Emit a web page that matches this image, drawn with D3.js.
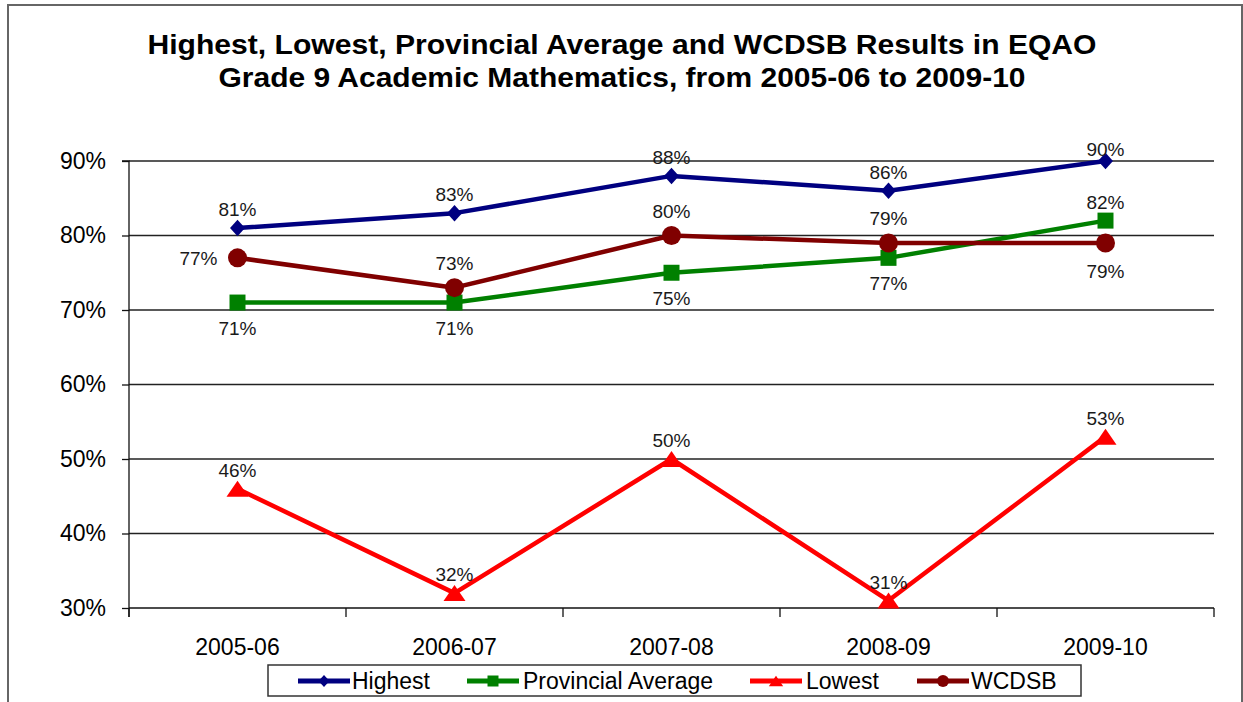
<!DOCTYPE html>
<html>
<head>
<meta charset="utf-8">
<script src="https://cdn.jsdelivr.net/npm/d3@7"></script>
<style>
  html, body { margin: 0; padding: 0; background: #fff; }
  svg { display: block; font-family: "Liberation Sans", Arial, sans-serif; }
</style>
</head>
<body>
<svg id="chart" width="1243" height="702"></svg>
<script>
// ---- data ----
const categories = ["2005-06", "2006-07", "2007-08", "2008-09", "2009-10"];
const highest = [81, 83, 88, 86, 90];
const provincial = [71, 71, 75, 77, 82];
const lowest = [46, 32, 50, 31, 53];
const wcdsb = [77, 73, 80, 79, 79];
const seriesNames = ["Highest", "Provincial Average", "Lowest", "WCDSB"];
const yTicks = [30, 40, 50, 60, 70, 80, 90];
const titleLines = [
  "Highest, Lowest, Provincial Average and WCDSB Results in EQAO",
  "Grade 9 Academic Mathematics, from 2005-06 to 2009-10"
];

// ---- drawing ----
const svg = d3.select("#chart");
const plot = { left: 129, right: 1214, top: 161, bottom: 608 };

// outer frame
svg.append("rect").attr("x", 8).attr("y", 5).attr("width", 1234).attr("height", 730)
  .attr("fill", "#fff").attr("stroke", "#666").attr("stroke-width", 2);

// title
const titleWidths = [949, 807];
titleLines.forEach((t, i) => {
  svg.append("text")
    .attr("x", 622).attr("y", 54 + i * 33)
    .attr("text-anchor", "middle")
    .attr("font-size", 27).attr("font-weight", "bold").attr("fill", "#000")
    .attr("textLength", titleWidths[i]).attr("lengthAdjust", "spacingAndGlyphs")
    .text(t);
});

const x = d3.scaleBand().domain(categories).range([plot.left, plot.right]).padding(0);
const y = d3.scaleLinear().domain([30, 90]).range([plot.bottom, plot.top]);
const cx = c => x(c) + x.bandwidth() / 2;

// gridlines
svg.append("g").selectAll("line").data(yTicks.filter(v => v > 30)).join("line")
  .attr("x1", plot.left).attr("x2", plot.right)
  .attr("y1", d => y(d)).attr("y2", d => y(d))
  .attr("stroke", "#222").attr("stroke-width", 1.3);

// y axis
const yAxis = d3.axisLeft(y).tickValues(yTicks).tickFormat(d => d + "%").tickSize(7).tickPadding(16);
const gy = svg.append("g").attr("transform", `translate(${plot.left},0)`).call(yAxis);
gy.select(".domain").attr("stroke", "#111").attr("stroke-width", 1.3).attr("d", `M-7,${plot.top}H0V${plot.bottom + 9}`);
gy.selectAll(".tick line").attr("stroke", "#111").attr("stroke-width", 1.3);
gy.selectAll(".tick text").attr("font-size", 23).attr("fill", "#000")
  .attr("font-family", "Liberation Sans, Arial, sans-serif");

// x axis
const gx = svg.append("g").attr("transform", `translate(0,${plot.bottom})`);
gx.append("line").attr("x1", plot.left).attr("x2", plot.right).attr("y1", 0).attr("y2", 0)
  .attr("stroke", "#111").attr("stroke-width", 1.5);
const edges = categories.map(c => x(c)).concat([plot.right]);
gx.selectAll("line.tk").data(edges).join("line").attr("class", "tk")
  .attr("x1", d => d).attr("x2", d => d).attr("y1", 0).attr("y2", 9)
  .attr("stroke", "#111").attr("stroke-width", 1.3);
gx.selectAll("text").data(categories).join("text")
  .attr("x", d => cx(d)).attr("y", 47)
  .attr("text-anchor", "middle").attr("font-size", 23).attr("fill", "#000")
  .text(d => d);

// series
const series = [
  { name: seriesNames[0], values: highest, color: "#000080", shape: "diamond", labels: ["a","a","a","a","a"] },
  { name: seriesNames[1], values: provincial, color: "#008000", shape: "square", labels: ["b","b","b","b","a"] },
  { name: seriesNames[2], values: lowest, color: "#FF0000", shape: "triangle", labels: ["a","a","a","a","a"] },
  { name: seriesNames[3], values: wcdsb, color: "#800000", shape: "circle", labels: ["l","a","a","a","b"] }
];

function markerPath(shape, s) {
  if (shape === "diamond") return `M0,${-s * 0.55}L${s * 0.5},0L0,${s * 0.55}L${-s * 0.5},0Z`;
  if (shape === "square") return `M${-s / 2},${-s / 2}h${s}v${s}h${-s}Z`;
  if (shape === "triangle") return `M0,${-s * 0.4}L${s * 0.55},${s * 0.4}L${-s * 0.55},${s * 0.4}Z`;
  return null;
}
const markerSize = { diamond: 15, square: 16, triangle: 20, circle: 19 };

const line = d3.line().x((d, i) => cx(categories[i])).y(d => y(d));

series.forEach(s => {
  const g = svg.append("g");
  g.append("path").datum(s.values).attr("d", line)
    .attr("fill", "none").attr("stroke", s.color).attr("stroke-width", 4.5)
    .attr("stroke-linejoin", "round");
  s.values.forEach((v, i) => {
    const px = cx(categories[i]), py = y(v);
    if (s.shape === "circle") {
      g.append("circle").attr("cx", px).attr("cy", py).attr("r", markerSize.circle / 2).attr("fill", s.color);
    } else {
      g.append("path").attr("d", markerPath(s.shape, markerSize[s.shape]))
        .attr("transform", `translate(${px},${py})`).attr("fill", s.color);
    }
  });
});

// data labels
series.forEach(s => {
  s.values.forEach((v, i) => {
    const px = cx(categories[i]), py = y(v);
    const pos = s.labels[i];
    let tx = px, ty, anchor = "middle";
    const extra = s.shape === "circle" ? 6 : 0;
    if (pos === "a") ty = py - 19 - extra;
    else if (pos === "b") ty = py + 25 + extra / 2;
    else { tx = px - 20; ty = py; anchor = "end"; }
    if (py - 19 < plot.top - 5 && pos === "a") ty = py - 12;
    svg.append("text")
      .attr("x", tx).attr("y", ty + 7)
      .attr("text-anchor", anchor).attr("font-size", 19).attr("fill", "#1a1a1a")
      .text(v + "%");
  });
});

// legend
const leg = svg.append("g");
leg.append("rect").attr("x", 268).attr("y", 665).attr("width", 813).attr("height", 31)
  .attr("fill", "#fff").attr("stroke", "#333").attr("stroke-width", 1.5);
const legItems = [
  { s: series[0], lx: 298, tx: 352 },
  { s: series[1], lx: 467, tx: 523 },
  { s: series[2], lx: 750, tx: 806 },
  { s: series[3], lx: 917, tx: 971 }
];
legItems.forEach(it => {
  const ly = 681;
  leg.append("line").attr("x1", it.lx).attr("x2", it.lx + 52).attr("y1", ly).attr("y2", ly)
    .attr("stroke", it.s.color).attr("stroke-width", 5);
  const mx = it.lx + 26;
  if (it.s.shape === "circle") {
    leg.append("circle").attr("cx", mx).attr("cy", ly).attr("r", 6).attr("fill", it.s.color);
  } else {
    leg.append("path").attr("d", markerPath(it.s.shape, it.s.shape === "triangle" ? 13 : 11))
      .attr("transform", `translate(${mx},${ly})`).attr("fill", it.s.color);
  }
  leg.append("text").attr("x", it.tx).attr("y", ly + 8)
    .attr("font-size", 23).attr("fill", "#000").text(it.s.name);
});
</script>
</body>
</html>
